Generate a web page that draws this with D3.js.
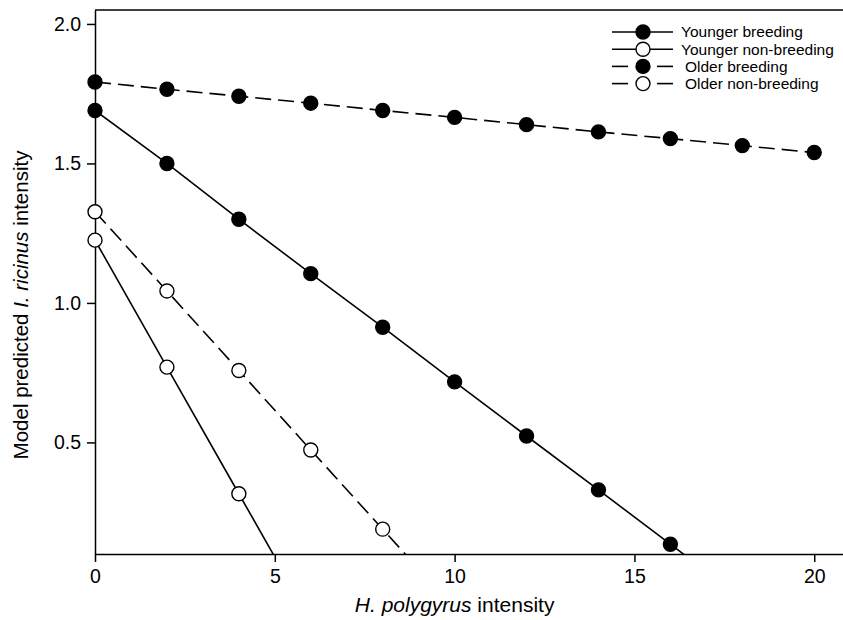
<!DOCTYPE html>
<html>
<head>
<meta charset="utf-8">
<script src="https://cdn.jsdelivr.net/npm/d3@7"></script>
<style>
  body { margin: 0; background: #fff; }
  svg { display: block; font-family: "Liberation Sans", Arial, Helvetica, sans-serif; }
</style>
</head>
<body>
<div id="chart"></div>
<script>
// values
const xValues = [0, 2, 4, 6, 8, 10, 12, 14, 16, 18, 20];
const youngerBreeding = [1.69, 1.50, 1.30, 1.105, 0.913, 0.717, 0.523, 0.330, 0.135, -0.06, -0.255];
const youngerNonBreeding = [1.225, 0.770, 0.316, -0.138];
const olderBreeding = [1.792, 1.766, 1.741, 1.716, 1.690, 1.665, 1.639, 1.613, 1.589, 1.564, 1.539];
const olderNonBreeding = [1.327, 1.043, 0.758, 0.473, 0.189, -0.096];
const xTicks = [0, 5, 10, 15, 20];
const yTicks = [0.5, 1.0, 1.5, 2.0];
const seriesNames = ["Younger breeding", "Younger non-breeding", "Older breeding", "Older non-breeding"];

const series = [
  { name: seriesNames[0], values: youngerBreeding, filled: true, dashed: false },
  { name: seriesNames[1], values: youngerNonBreeding, filled: false, dashed: false },
  { name: seriesNames[2], values: olderBreeding, filled: true, dashed: true },
  { name: seriesNames[3], values: olderNonBreeding, filled: false, dashed: true }
].map(s => ({ ...s, points: s.values.map((v, i) => ({ x: xValues[i], y: v })) }));

const width = 843;
const height = 620;
const marginTop = 10;
const marginRight = 0;
const marginBottom = 66;
const marginLeft = 95;
const dash = "16,7";
const r = 7;

const x = d3.scaleLinear()
    .domain([0, 20.8])
    .range([marginLeft, width - marginRight]);
const y = d3.scaleLinear()
    .domain([0.1, 2.05])
    .range([height - marginBottom, marginTop]);

const svg = d3.select("#chart").append("svg")
    .attr("width", width)
    .attr("height", height);

svg.append("defs").append("clipPath")
    .attr("id", "plot-clip")
  .append("rect")
    .attr("x", marginLeft)
    .attr("y", marginTop)
    .attr("width", width - marginLeft - marginRight)
    .attr("height", height - marginTop - marginBottom);

// axes
const xAxis = svg.append("g")
    .attr("transform", `translate(0,${height - marginBottom})`)
    .call(d3.axisBottom(x).tickValues(xTicks).tickFormat(d3.format("d")).tickSize(8).tickPadding(7).tickSizeOuter(0));
const yAxis = svg.append("g")
    .attr("transform", `translate(${marginLeft},0)`)
    .call(d3.axisLeft(y).tickValues(yTicks).tickFormat(d3.format(".1f")).tickSize(8).tickPadding(6).tickSizeOuter(0));
[xAxis, yAxis].forEach(g => {
  g.selectAll(".tick text").attr("font-size", 19.5).attr("fill", "#000").attr("font-family", null);
  g.selectAll("line, path").attr("stroke", "#000").attr("stroke-width", 1.5);
});

// top frame line
svg.append("line")
    .attr("x1", marginLeft)
    .attr("x2", width)
    .attr("y1", marginTop)
    .attr("y2", marginTop)
    .attr("stroke", "#000")
    .attr("stroke-width", 1.5);

// series: lines clipped to the plot, markers on top
const line = d3.line().x(d => x(d.x)).y(d => y(d.y));
const plot = svg.append("g").attr("clip-path", "url(#plot-clip)");

series.forEach(s => {
  plot.append("path")
      .datum(s.points)
      .attr("fill", "none")
      .attr("stroke", "#000")
      .attr("stroke-width", 1.6)
      .attr("stroke-dasharray", s.dashed ? dash : null)
      .attr("d", line);
});
series.forEach(s => {
  svg.append("g")
    .selectAll("circle")
    .data(s.points.filter(d => d.y >= 0.1))
    .join("circle")
      .attr("cx", d => x(d.x))
      .attr("cy", d => y(d.y))
      .attr("r", r)
      .attr("fill", s.filled ? "#000" : "#fff")
      .attr("stroke", "#000")
      .attr("stroke-width", 1.4);
});

// legend
const legend = svg.append("g")
    .attr("transform", "translate(612,32)");
series.forEach((s, i) => {
  const g = legend.append("g").attr("transform", `translate(0,${i * 17.2})`);
  if (s.dashed) {
    g.append("line").attr("x1", 0).attr("x2", 16).attr("stroke", "#000").attr("stroke-width", 1.6);
    g.append("line").attr("x1", 45).attr("x2", 61).attr("stroke", "#000").attr("stroke-width", 1.6);
  } else {
    g.append("line").attr("x1", 0).attr("x2", 61).attr("stroke", "#000").attr("stroke-width", 1.6);
  }
  g.append("circle")
      .attr("cx", 31)
      .attr("r", r)
      .attr("fill", s.filled ? "#000" : "#fff")
      .attr("stroke", "#000")
      .attr("stroke-width", 1.4);
  g.append("text")
      .attr("x", s.dashed ? 73 : 69)
      .attr("dy", "0.35em")
      .attr("font-size", 15.5)
      .text(s.name);
});

// axis titles
const xTitle = svg.append("text")
    .attr("x", (x(0) + x(20)) / 2)
    .attr("y", 612)
    .attr("text-anchor", "middle")
    .attr("font-size", 21);
xTitle.append("tspan").attr("font-style", "italic").text("H. polygyrus");
xTitle.append("tspan").text(" intensity");

const yTitle = svg.append("text")
    .attr("transform", `translate(28,305) rotate(-90)`)
    .attr("text-anchor", "middle")
    .attr("font-size", 20.5);
yTitle.append("tspan").text("Model predicted ");
yTitle.append("tspan").attr("font-style", "italic").text("I. ricinus");
yTitle.append("tspan").text(" intensity");
</script>
</body>
</html>
